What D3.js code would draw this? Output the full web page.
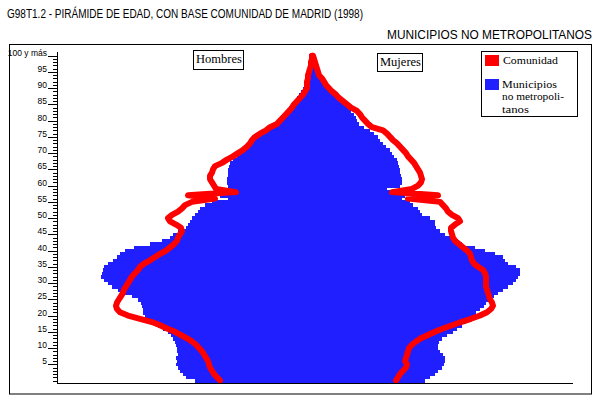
<!DOCTYPE html>
<html><head><meta charset="utf-8">
<script src="https://cdn.jsdelivr.net/npm/d3@7"></script>
<style>body{margin:0;background:#fff}svg{display:block}</style>
</head><body>
<svg id="c" width="600" height="400"></svg>
<script>
// Ages 0..100 ("100 y más")
const ages = d3.range(0, 101);
const tickValues = [5,10,15,20,25,30,35,40,45,50,55,60,65,70,75,80,85,90,95,100];
const tickLabels = ["5","10","15","20","25","30","35","40","45","50","55","60","65","70","75","80","85","90","95","100 y más"];
const seriesNames = ["Comunidad", "Municipios no metropolitanos"];

// Municipios no metropolitanos (blue bars), per 10 000, by single age
const hombresMunicipios = [29.25,31.5,32.25,33,33.5,34,33.75,34,33.5,33.75,
33.75,34,34.25,34.75,35.25,36,37.25,38.5,39.75,41,
41.75,42.25,42.25,42.5,42.75,43.5,45,46.75,48.5,50,
51,52,52.75,52.5,52.25,52,51,49.75,48.75,48,
46.75,44.5,40.5,37.5,35.5,34.75,33.5,31.5,31,30.5,
30,29.25,28.5,28,26.75,25,21,23,20.5,21,
21,21.25,21.25,21,21,21,20.75,20.5,19.75,18.75,
18,17.25,16.5,15.75,15,14,13,11.75,10.5,9.5,
8.5,8,7,6.25,5.75,5,4.25,3.75,3.25,2.75,
2.25,2,1.75,1.5,1.25,1.25,1,1,1,0.75,
0.75];
const mujeresMunicipios = [28.25,29.5,30.75,31.5,32.5,33,33.25,33.25,32.75,32,
31.5,31.5,31.75,32.5,33.75,35.25,36.25,37.5,38.5,39.5,
40.25,41,42,43,43.5,44.5,45.5,46.5,47.75,49,
50.25,51,51.5,52,52,51,49,48.25,47.75,45.75,
43.25,40.75,37.5,36.5,35,33.25,32,31,30.75,30.75,
29.5,27.5,27,26.5,25.25,24.5,22.5,23.25,20.75,18.75,
22,22.5,22.5,22.25,22,22,21.75,21.5,21.25,20.5,
20,19.5,18.5,17.75,17,16.5,15.5,14.5,13,11.75,
11.25,11,10.5,9.75,9.25,8.5,7.75,7,6.25,5.5,
4.5,4,3.5,2.75,2.25,2,1.5,1.25,1,0.75,
0.75];
// Comunidad de Madrid (red line)
const hombresComunidad = [23,23.75,24.5,25,25.5,25.75,26,26.5,27,27.5,
28.25,29,30,31.25,32.75,34.25,36.25,38,40,43,
46,48,48.75,49,48.75,48.25,47.75,47.25,47,46.5,
46,45.5,45,44.25,43.5,43,42,40.5,39.25,38,
36.5,35.5,34.5,33.75,33.5,33,32.5,32.75,34,35.5,
36,35,33.5,32.5,31.75,30,24.25,31,19,24,
24.5,25,25.5,25.5,25,24.75,24.25,22.5,21.25,19.75,
18.5,17.25,16.25,15.5,15,14.25,13,11.5,10.5,8.75,
8,7.25,6.5,5.75,5,4.5,3.75,3,2.25,1.75,
1.25,1.25,1.25,1,1,0.75,0.5,0.25,0.25,0,
0];
const mujeresComunidad = [21,21.5,22,22.75,23.5,23.75,23.25,23.5,23.75,24,
24.25,25,26,27.25,29,30.75,32.75,35,37.25,39.75,
42,43.75,44.75,45.25,45,44.5,44.25,44,43.75,43.5,
43.5,43.5,43.5,43.25,42.75,41.5,40.5,40,39.75,39.5,
38.75,37.75,36.75,35.75,35.25,35,34.75,34.75,35.75,37,
36.5,35,34,33.5,32.75,32,24,31.5,20,25,
26.5,27.25,27.5,27.25,27,26.5,26,25.5,24.75,24,
23.5,22.75,22,21.25,20.25,19.5,18.75,17.75,15,14,
13.25,12.5,12,11.25,9.75,8.75,7.75,6.75,6,5,
4.25,3.5,3,2.5,1.75,1.5,1.25,1,0.75,0.5,
0.25];

const BLUE = "#1f1fff", RED = "#ff0000";
const svg = d3.select("#c");
svg.append("rect").attr("width",600).attr("height",400).attr("fill","#fff");

const x = d3.scaleLinear().domain([-64, 64]).range([56, 568]);
const y = d3.scaleLinear().domain([0, 100]).range([380.5, 55.7]);
const bandH = 3.25;

// titles
svg.append("text").attr("x",7).attr("y",18)
  .attr("font-family","Liberation Sans, Arial, sans-serif").attr("font-size",12)
  .attr("textLength",356).attr("lengthAdjust","spacingAndGlyphs")
  .text("G98T1.2 - PIRÁMIDE DE EDAD, CON BASE COMUNIDAD DE MADRID (1998)");
svg.append("text").attr("x",387).attr("y",39)
  .attr("font-family","Liberation Sans, Arial, sans-serif").attr("font-size",12)
  .attr("textLength",205).attr("lengthAdjust","spacingAndGlyphs")
  .text("MUNICIPIOS NO METROPOLITANOS");

// frame
svg.append("rect").attr("x",9.5).attr("y",44.5).attr("width",582).attr("height",349.5)
  .attr("fill","none").attr("stroke","#000");

// blue bars
const g = svg.append("g").attr("shape-rendering","crispEdges");
g.selectAll("rect.h").data(ages).join("rect").attr("class","h")
  .attr("x", a => x(-hombresMunicipios[a])).attr("width", a => x(0) - x(-hombresMunicipios[a]))
  .attr("y", a => y(a) - bandH/2).attr("height", bandH + 0.6).attr("fill", BLUE);
g.selectAll("rect.m").data(ages).join("rect").attr("class","m")
  .attr("x", x(0)).attr("width", a => x(mujeresMunicipios[a]) - x(0))
  .attr("y", a => y(a) - bandH/2).attr("height", bandH + 0.6).attr("fill", BLUE);

// red lines
const lineH = d3.line().x(a => x(-hombresComunidad[a])).y(a => y(a));
const lineM = d3.line().x(a => x(mujeresComunidad[a])).y(a => y(a));
[lineH, lineM].forEach(l => svg.append("path").attr("d", l(ages))
  .attr("fill","none").attr("stroke",RED).attr("stroke-width",6)
  .attr("stroke-linejoin","round").attr("stroke-linecap","round"));

// axes
const axG = svg.append("g").attr("transform","translate(57,0)").attr("shape-rendering","crispEdges");
axG.call(d3.axisLeft(y).tickValues(ages).tickSize(4).tickFormat(""));
axG.select(".domain").remove();
const majG = svg.append("g").attr("transform","translate(57,0)").attr("shape-rendering","crispEdges");
majG.call(d3.axisLeft(y).tickValues(tickValues).tickSize(9).tickPadding(1)
  .tickFormat((d,i) => tickLabels[i]));
majG.select(".domain").remove();
majG.selectAll("text").attr("dy","-0.05em").attr("font-family","Liberation Sans, Arial, sans-serif")
  .attr("font-size",8.5).attr("fill","#000");
svg.append("line").attr("x1",57.5).attr("x2",57.5).attr("y1",52).attr("y2",383.5)
  .attr("stroke","#000").attr("shape-rendering","crispEdges");
svg.append("line").attr("x1",57).attr("x2",573).attr("y1",383.5).attr("y2",383.5)
  .attr("stroke","#000").attr("shape-rendering","crispEdges");

// sex labels
function boxLabel(bx, by, bw, bh, t, tx, ty){
  svg.append("rect").attr("x",bx+0.5).attr("y",by+0.5).attr("width",bw).attr("height",bh)
    .attr("fill","#fff").attr("stroke","#000");
  svg.append("text").attr("x",tx).attr("y",ty).attr("font-family","Liberation Serif, Times New Roman, serif")
    .attr("font-size",12.5).text(t);
}
boxLabel(193, 50, 50, 19, "Hombres", 196, 63);
boxLabel(377, 53, 45, 18, "Mujeres", 380, 66);

// legend
svg.append("rect").attr("x",481.5).attr("y",51.5).attr("width",96).attr("height",65)
  .attr("fill","#fff").attr("stroke","#000");
svg.append("rect").attr("x",485).attr("y",55).attr("width",14).attr("height",11).attr("fill",RED);
svg.append("rect").attr("x",485).attr("y",79).attr("width",14).attr("height",11).attr("fill",BLUE);
const lf = (t, w) => t.attr("font-family","Liberation Serif, Times New Roman, serif").attr("font-size",11)
  .attr("textLength", w).attr("lengthAdjust","spacingAndGlyphs");
lf(svg.append("text").attr("x",503).attr("y",64).text(seriesNames[0]), 55);
lf(svg.append("text").attr("x",502).attr("y",87.5).text("Municipios"), 55);
lf(svg.append("text").attr("x",502).attr("y",100).text("no metropoli-"), 62);
lf(svg.append("text").attr("x",502).attr("y",112.5).text("tanos"), 27);
</script>
</body></html>
